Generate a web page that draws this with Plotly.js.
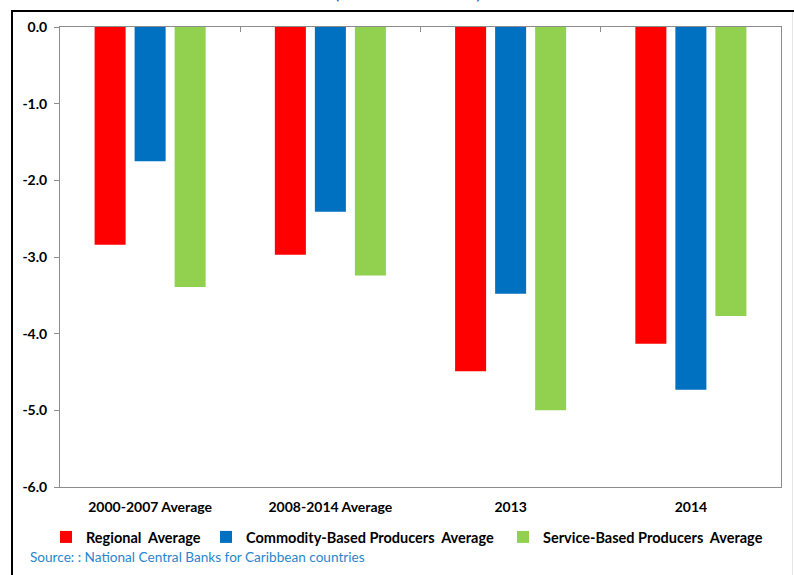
<!DOCTYPE html>
<html>
<head>
<meta charset="utf-8">
<script src="https://cdn.plot.ly/plotly-3.0.1.min.js"></script>
<style>
  html, body { margin: 0; padding: 0; background: #fff; }
  #wrap { position: relative; width: 794px; height: 575px; overflow: hidden; }
  #chart { position: absolute; left: 0; top: 0; width: 794px; height: 575px; }
  .frame-top { position: absolute; left: 11px; top: 10px; width: 783px; height: 2px; background: #000; }
  .frame-left { position: absolute; left: 11px; top: 10px; width: 2px; height: 565px; background: #000; }
  .frame-right { position: absolute; left: 792px; top: 12px; width: 1px; height: 563px; background: #e4e4e4; }
</style>
</head>
<body>
<div id="wrap">
  <div id="chart"></div>
  <div class="frame-top"></div>
  <div class="frame-left"></div>
  <div class="frame-right"></div>
</div>
<script>
// Fiscal balance by producer group (per cent of GDP)
const categories = ["2000-2007 Average", "2008-2014 Average", "2013", "2014"];
const regionalAverage = [-2.84, -2.97, -4.49, -4.13];
const commodityAverage = [-1.75, -2.41, -3.48, -4.73];
const serviceAverage = [-3.39, -3.24, -5.00, -3.77];

const seriesNames = [
  "Regional\u00a0 Average",
  "Commodity-Based Producers\u00a0 Average",
  "Service-Based Producers\u00a0 Average"
];
const seriesColors = ["#ff0000", "#0070c0", "#92d050"];

const yTickVals = [0, -1, -2, -3, -4, -5, -6];
const yTickText = ["0.0", "-1.0", "-2.0", "-3.0", "-4.0", "-5.0", "-6.0"];

const titleText = "(Percent of GDP)";
const sourceText = "Source: : National Central Banks for Caribbean countries";

const FONT = "Lato, 'Open Sans', sans-serif";
const AXIS_GREY = "#8c8c8c";

const seriesValues = [regionalAverage, commodityAverage, serviceAverage];
const legendIds = ["legend", "legend2", "legend3"];
const legendLeft = [46, 206, 503];

const traces = seriesValues.map((vals, i) => ({
  type: "bar",
  x: categories,
  y: vals,
  name: seriesNames[i],
  legend: legendIds[i],
  marker: { color: seriesColors[i], line: { width: 0 } },
  hoverinfo: "x+y+name"
}));

// companion axis along the zero line carrying the category boundary ticks
traces.push({
  type: "scatter",
  mode: "markers",
  x: categories,
  y: categories.map(() => null),
  xaxis: "x2",
  yaxis: "y",
  showlegend: false,
  hoverinfo: "skip",
  marker: { opacity: 0 }
});

function legendBox(left) {
  return {
    orientation: "h",
    xref: "container",
    yref: "container",
    x: left / 794,
    xanchor: "left",
    y: 1 - 537 / 575,
    yanchor: "middle",
    font: { family: FONT, size: 14.5, color: "#000", weight: "bold" },
    bgcolor: "rgba(0,0,0,0)"
  };
}

const layout = {
  width: 794,
  height: 575,
  margin: { l: 60, r: 13, t: 27, b: 88 },
  paper_bgcolor: "#ffffff",
  plot_bgcolor: "#ffffff",
  font: { family: FONT, size: 14, color: "#000" },
  barmode: "group",
  bargap: 0.334,
  bargroupgap: 0.225,
  showlegend: true,
  legend: legendBox(legendLeft[0]),
  legend2: legendBox(legendLeft[1]),
  legend3: legendBox(legendLeft[2]),
  xaxis: {
    type: "category",
    categoryarray: categories,
    range: [-0.5, 3.5],
    showline: true,
    linecolor: AXIS_GREY,
    linewidth: 1,
    ticks: "",
    showgrid: false,
    zeroline: false,
    tickfont: { family: FONT, size: 14, color: "#000", weight: "bold" },
    ticklabelstandoff: 7,
    fixedrange: true
  },
  xaxis2: {
    type: "category",
    categoryarray: categories,
    range: [-0.5, 3.5],
    overlaying: "x",
    side: "top",
    anchor: "y",
    showline: true,
    linecolor: AXIS_GREY,
    linewidth: 1,
    ticks: "inside",
    tickson: "boundaries",
    ticklen: 5,
    tickcolor: AXIS_GREY,
    showticklabels: false,
    showgrid: false,
    zeroline: false,
    fixedrange: true
  },
  yaxis: {
    range: [-6, 0],
    tickvals: yTickVals,
    ticktext: yTickText,
    ticks: "outside",
    ticklen: 5,
    tickcolor: AXIS_GREY,
    showline: true,
    linecolor: AXIS_GREY,
    linewidth: 1,
    mirror: true,
    showgrid: false,
    zeroline: false,
    tickfont: { family: FONT, size: 14, color: "#000", weight: "bold" },
    ticklabelstandoff: 4,
    fixedrange: true
  },
  annotations: [
    {
      text: titleText,
      xref: "paper",
      yref: "paper",
      x: 0.483,
      y: (487 + 9) / 460,
      xanchor: "center",
      yanchor: "middle",
      showarrow: false,
      font: { family: FONT, size: 20, color: "#1f78c4" }
    },
    {
      text: sourceText,
      xref: "paper",
      yref: "paper",
      x: (28 - 60) / 721,
      y: (487 - 557) / 460,
      xanchor: "left",
      yanchor: "middle",
      showarrow: false,
      font: { family: FONT, size: 13.6, color: "#2a86cc" }
    }
  ]
};

Plotly.newPlot("chart", traces, layout, { displayModeBar: false, staticPlot: true });
</script>
</body>
</html>
